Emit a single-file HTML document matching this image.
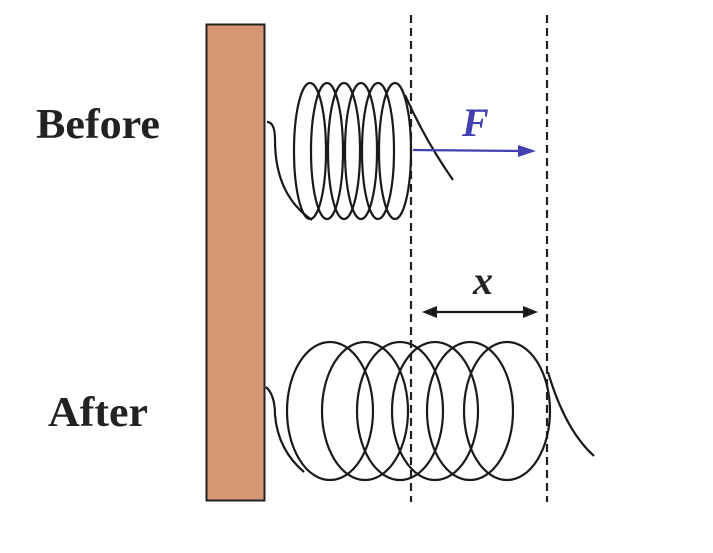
<!DOCTYPE html>
<html><head><style>body{margin:0;background:#fff}</style></head><body>
<svg width="713" height="548" viewBox="0 0 713 548" xmlns="http://www.w3.org/2000/svg">
<rect x="206.5" y="24.5" width="58" height="476" fill="#d59674" stroke="#222" stroke-width="2"/>
<g stroke="#222" stroke-width="2.2" stroke-dasharray="8,5">
<line x1="411" y1="15" x2="411" y2="502"/>
<line x1="547" y1="15" x2="547" y2="502"/>
</g>
<g fill="none" stroke="#1a1a1a" stroke-width="2.2">
<ellipse cx="310" cy="151" rx="16" ry="68"/>
<ellipse cx="327" cy="151" rx="16" ry="68"/>
<ellipse cx="344" cy="151" rx="16" ry="68"/>
<ellipse cx="361" cy="151" rx="16" ry="68"/>
<ellipse cx="378" cy="151" rx="16" ry="68"/>
<ellipse cx="395" cy="151" rx="16" ry="68"/>
<path d="M267 122 Q275 122 275 140 Q275 195 312 220"/>
<path d="M405 95 Q425 140 453 180"/>
<ellipse cx="330" cy="411" rx="43" ry="69"/>
<ellipse cx="365" cy="411" rx="43" ry="69"/>
<ellipse cx="400" cy="411" rx="43" ry="69"/>
<ellipse cx="435" cy="411" rx="43" ry="69"/>
<ellipse cx="470" cy="411" rx="43" ry="69"/>
<ellipse cx="507" cy="411" rx="43" ry="69"/>
<path d="M266 387 Q275 395 275 415 Q278 450 304 472"/>
<path d="M548 372 Q565 430 594 456"/>
</g>
<line x1="413" y1="150" x2="522" y2="151" stroke="#4040b0" stroke-width="2.2"/>
<polygon points="536,151 518,145 518,157" fill="#4040b0"/>
<line x1="434" y1="312" x2="526" y2="312" stroke="#1a1a1a" stroke-width="2.2"/>
<polygon points="422,312 437,306 437,318" fill="#1a1a1a"/>
<polygon points="538,312 523,306 523,318" fill="#1a1a1a"/>
<text x="36" y="138" font-family="Liberation Serif" font-weight="bold" font-size="42" textLength="124" lengthAdjust="spacingAndGlyphs" fill="#222">Before</text>
<text x="48" y="426" font-family="Liberation Serif" font-weight="bold" font-size="42" textLength="100" lengthAdjust="spacingAndGlyphs" fill="#222">After</text>
<text x="462" y="136" font-family="Liberation Serif" font-weight="bold" font-style="italic" font-size="40" fill="#4040b0">F</text>
<text x="473" y="294" font-family="Liberation Serif" font-weight="bold" font-style="italic" font-size="40" fill="#222">x</text>
</svg>
</body></html>
